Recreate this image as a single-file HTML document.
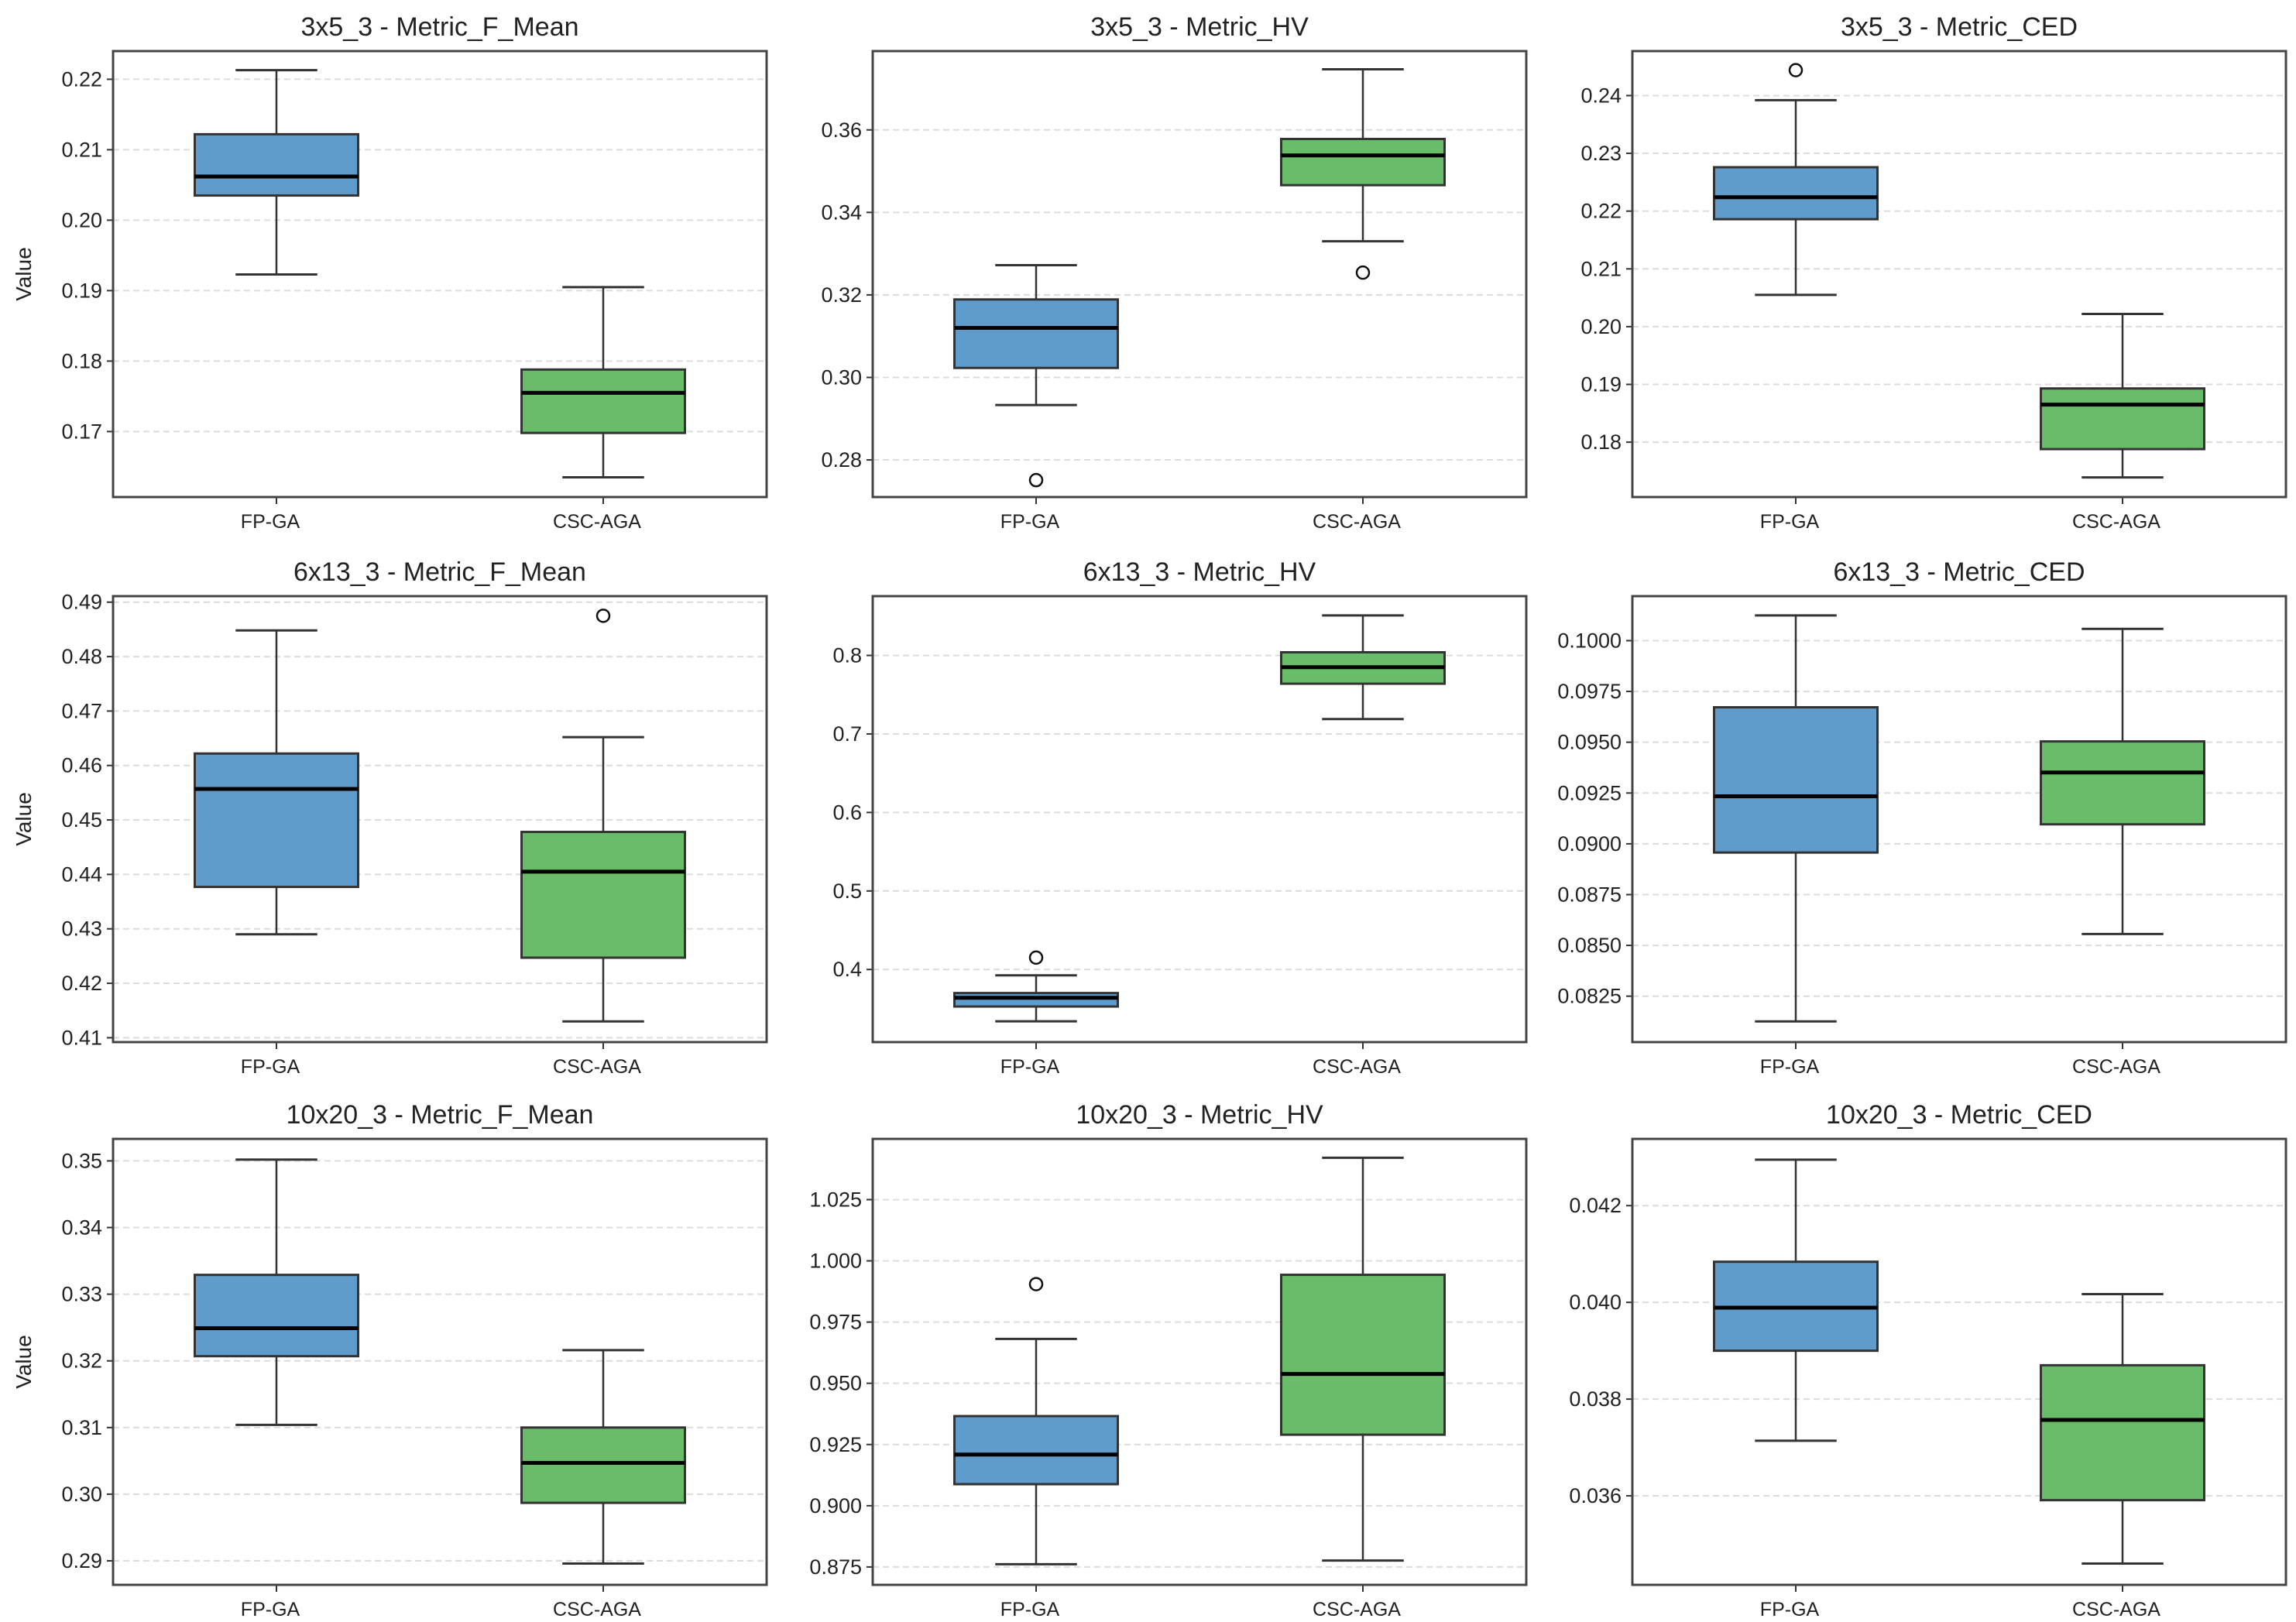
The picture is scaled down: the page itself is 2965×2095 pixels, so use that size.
<!DOCTYPE html>
<html><head><meta charset="utf-8"><style>
html,body{margin:0;padding:0;background:#fff;}
svg{display:block;font-family:"Liberation Sans","DejaVu Sans",sans-serif;}
</style></head><body>
<svg id="chart" width="2965" height="2095" viewBox="0 0 2965 2095"></svg>
<script>
const titles = ["3x5_3 - Metric_F_Mean","3x5_3 - Metric_HV","3x5_3 - Metric_CED","6x13_3 - Metric_F_Mean","6x13_3 - Metric_HV","6x13_3 - Metric_CED","10x20_3 - Metric_F_Mean","10x20_3 - Metric_HV","10x20_3 - Metric_CED"];
const categories = ["FP-GA","CSC-AGA"];
const yMin = [0.1607,0.271,0.1705,0.4092,0.3075,0.08024,0.2864,0.8677,0.03416];
const yMax = [0.224,0.3791,0.2477,0.4911,0.8755,0.10219,0.3533,1.0498,0.04338];
const ticks = [
 ["0.17","0.18","0.19","0.20","0.21","0.22"],
 ["0.28","0.30","0.32","0.34","0.36"],
 ["0.18","0.19","0.20","0.21","0.22","0.23","0.24"],
 ["0.41","0.42","0.43","0.44","0.45","0.46","0.47","0.48","0.49"],
 ["0.4","0.5","0.6","0.7","0.8"],
 ["0.0825","0.0850","0.0875","0.0900","0.0925","0.0950","0.0975","0.1000"],
 ["0.29","0.30","0.31","0.32","0.33","0.34","0.35"],
 ["0.875","0.900","0.925","0.950","0.975","1.000","1.025"],
 ["0.036","0.038","0.040","0.042"]
];
// [whiskerLow, Q1, median, Q3, whiskerHigh]
const fpStats = [
 [0.1923,0.2035,0.2062,0.2122,0.2213],
 [0.2933,0.3023,0.3120,0.3189,0.3272],
 [0.2055,0.2186,0.2224,0.2276,0.2392],
 [0.4290,0.4377,0.4557,0.4622,0.4848],
 [0.334,0.3528,0.364,0.370,0.3925],
 [0.08126,0.08957,0.09234,0.09672,0.10124],
 [0.3104,0.3207,0.3249,0.3329,0.3502],
 [0.8761,0.9088,0.9209,0.9366,0.9681],
 [0.03714,0.03900,0.03989,0.04084,0.04295]
];
const cscStats = [
 [0.1635,0.1698,0.1755,0.1788,0.1905],
 [0.3330,0.3466,0.3538,0.3578,0.3747],
 [0.1739,0.1788,0.1865,0.1893,0.2022],
 [0.4130,0.4247,0.4405,0.4478,0.4652],
 [0.719,0.764,0.785,0.804,0.851],
 [0.08556,0.09096,0.09351,0.09504,0.10058],
 [0.2896,0.2987,0.3047,0.3100,0.3216],
 [0.8776,0.9290,0.9538,0.9943,1.0421],
 [0.03460,0.03591,0.03757,0.03870,0.04017]
];
const fpOutliers = [[],[0.2751],[0.2444],[],[0.4151],[],[],[0.9905],[]];
const cscOutliers = [[],[0.3254],[],[0.4875],[],[],[],[],[]];

const NS="http://www.w3.org/2000/svg";
const svg=document.getElementById('chart');
function mk(tag,attrs,parent){const e=document.createElementNS(NS,tag);for(const k in attrs)e.setAttribute(k,attrs[k]);(parent||svg).appendChild(e);return e;}
const colX=[146,1127,2108], rowY=[66,770,1471], W=844, H=576;
const fills=["#5f9ccc","#69bd69"];
for(let p=0;p<9;p++){
  const ax=colX[p%3], ay=rowY[Math.floor(p/3)];
  const g=mk('g',{});
  
  
  const ys=v=>ay+H-(v-yMin[p])/(yMax[p]-yMin[p])*H;
  const xs=i=>ax+W*(0.25+0.5*i);
  const t=mk('text',{x:ax+W/2,y:ay-20,'text-anchor':'middle','font-size':34,fill:'#222'},g);
  t.textContent=titles[p];
  
  
  ticks[p].forEach(s=>{
    const y=ys(parseFloat(s));
    const gl=mk('line',{x1:ax,x2:ax+W,y1:y,y2:y,stroke:'#dcdcdc','stroke-width':2,'stroke-dasharray':'8,5'},g);
    
    
    mk('line',{x1:ax-8,x2:ax,y1:y,y2:y,stroke:'#333','stroke-width':2},g);
    const tl=mk('text',{x:ax-14,y:y+9,'text-anchor':'end','font-size':27,fill:'#222'},g);
    tl.textContent=s;
    
    
  });
  if(p%3===0){
    const yl=mk('text',{x:0,y:0,'text-anchor':'middle','font-size':28,fill:'#222',transform:`translate(40,${ay+H/2}) rotate(-90)`},g);
    yl.textContent='Value';
    
    
  }
  const stats=[fpStats[p],cscStats[p]], outs=[fpOutliers[p],cscOutliers[p]];
  for(let i=0;i<2;i++){
    const s=stats[i], cx=xs(i), bw=W*0.25, cw=bw/2;
    const bg=mk('g',{},g);
    
    
    mk('line',{x1:cx,x2:cx,y1:ys(s[0]),y2:ys(s[1]),stroke:'#333','stroke-width':2.5},bg);
    mk('line',{x1:cx,x2:cx,y1:ys(s[3]),y2:ys(s[4]),stroke:'#333','stroke-width':2.5},bg);
    mk('line',{x1:cx-cw/2,x2:cx+cw/2,y1:ys(s[0]),y2:ys(s[0]),stroke:'#333','stroke-width':3},bg);
    mk('line',{x1:cx-cw/2,x2:cx+cw/2,y1:ys(s[4]),y2:ys(s[4]),stroke:'#333','stroke-width':3},bg);
    mk('rect',{x:cx-bw/2,y:ys(s[3]),width:bw,height:ys(s[1])-ys(s[3]),fill:fills[i],stroke:'#333','stroke-width':3},bg);
    mk('line',{x1:cx-bw/2,x2:cx+bw/2,y1:ys(s[2]),y2:ys(s[2]),stroke:'#000','stroke-width':5},bg);
    outs[i].forEach(v=>{
      const c=mk('circle',{cx:cx,cy:ys(v),r:8,fill:'none',stroke:'#111','stroke-width':2.5},bg);
      
      
    });
    mk('line',{x1:cx,x2:cx,y1:ay+H,y2:ay+H+9,stroke:'#333','stroke-width':2},g);
    const xl=mk('text',{x:cx-8,y:ay+H+40,'text-anchor':'middle','font-size':25,fill:'#222'},g);
    xl.textContent=categories[i];
    
    
  }
  const fr=mk('rect',{x:ax,y:ay,width:W,height:H,fill:'none',stroke:'#444','stroke-width':3},g);
  
  
}
</script>
</body></html>
